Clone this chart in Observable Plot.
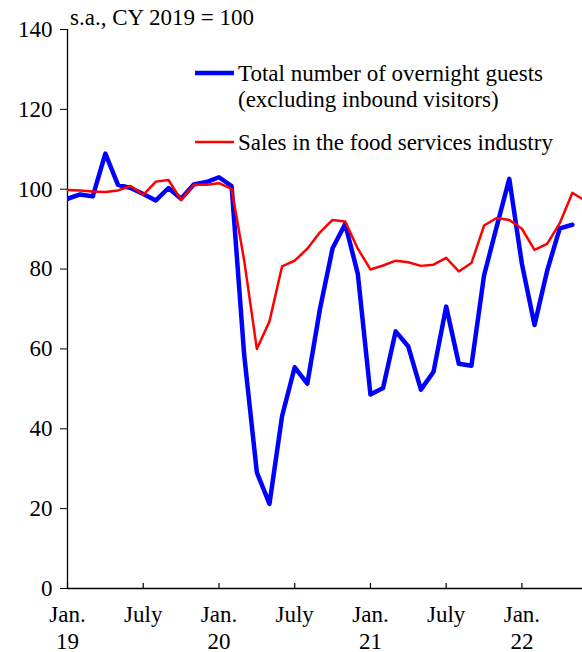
<!DOCTYPE html>
<html><head><meta charset="utf-8">
<script src="https://cdn.jsdelivr.net/npm/d3@7"></script>
<script src="https://cdn.jsdelivr.net/npm/@observablehq/plot@0.6"></script>
<style>html,body{margin:0;padding:0;background:#fff;}</style>
</head><body><div id="chart"></div>
<script>
// Month index 0 = Jan 2019
const guests = [
  97.6, 98.7, 98.2, 108.9, 101.1, 100.3, 98.8, 97.2, 100.3, 97.6, 101.2, 101.8,
  103.0, 100.8, 58.4, 29.1, 21.2, 43.2, 55.4, 51.3, 70.0, 85.2, 91.3, 78.8,
  48.6, 50.2, 64.4, 60.6, 49.8, 54.3, 70.6, 56.3, 55.8, 78.4, 90.6, 102.6,
  81.3, 66.0, 79.6, 90.2, 91.1
];
const sales = [
  99.8, 99.7, 99.4, 99.3, 99.7, 100.8, 98.6, 101.9, 102.3, 97.3, 101.1, 101.1,
  101.5, 100.1, 82.1, 60.0, 66.9, 80.7, 82.1, 85.1, 89.2, 92.3, 91.9, 85.1,
  79.9, 80.9, 82.1, 81.7, 80.8, 81.1, 82.8, 79.4, 81.5, 90.9, 92.8, 92.3,
  90.1, 84.8, 86.3, 91.5, 99.1, 97.1
];
const yTicks = [0, 20, 40, 60, 80, 100, 120, 140];
const xTickPos = [0, 6, 12, 18, 24, 30, 36];
const xTickLabels = ["Jan.\n19", "July", "Jan.\n20", "July", "Jan.\n21", "July", "Jan.\n22"];
const unitLabel = "s.a., CY 2019 = 100";
const seriesNames = [["Total number of overnight guests", "(excluding inbound visitors)"], ["Sales in the food services industry"]];
const seriesColors = ["#0000ff", "#ff0000"];
const seriesWidths = [4.5, 2.5];

const FONT = "Liberation Serif, Times New Roman, serif";
const FS = 23;

const guestRows = guests.map((v, i) => ({i, v}));
const salesRows = sales.map((v, i) => ({i, v}));

function legendMark() {
  return () => {
    const g = d3.create("svg:g").attr("font-family", FONT).attr("font-size", FS)
      .attr("fill", "black").attr("text-anchor", "start");
    g.append("text").attr("x", 70).attr("y", 25).text(unitLabel);
    const entries = [{sy: 73, ty: 81}, {sy: 142, ty: 150}];
    entries.forEach((e, k) => {
      g.append("line").attr("x1", 195).attr("x2", 234).attr("y1", e.sy).attr("y2", e.sy)
        .attr("stroke", seriesColors[k]).attr("stroke-width", seriesWidths[k]);
      const t = g.append("text").attr("x", 238).attr("y", e.ty);
      seriesNames[k].forEach((line, j) => {
        t.append("tspan").attr("x", 238).attr("dy", j === 0 ? 0 : 26).text(line);
      });
    });
    return g.node();
  };
}

const chart = Plot.plot({
  width: 582,
  height: 652,
  marginLeft: 67,
  marginRight: 0,
  marginTop: 29,
  marginBottom: 64,
  style: {fontFamily: FONT, fontSize: FS + "px", background: "white", color: "black"},
  x: {type: "linear", domain: [0, 40.8]},
  y: {domain: [0, 140]},
  marks: [
    Plot.axisY({ticks: yTicks, tickSize: 7, tickPadding: 8, fontSize: FS, label: null, tickFormat: d => d}),
    Plot.axisX({ticks: xTickPos, tickSize: 0, tickPadding: 14, fontSize: FS, lineHeight: 1.17, label: null,
      tickFormat: (d) => xTickLabels[xTickPos.indexOf(d)]}),
    Plot.tickX(xTickPos, {x: d => d, stroke: "black", strokeWidth: 1.2, insetTop: 554}),
    Plot.ruleX([0], {y1: 0, y2: 140, stroke: "black", strokeWidth: 1.3}),
    Plot.ruleY([0], {stroke: "black", strokeWidth: 1.3}),
    Plot.line(guestRows, {x: "i", y: "v", stroke: seriesColors[0], strokeWidth: seriesWidths[0], clip: true}),
    Plot.line(salesRows, {x: "i", y: "v", stroke: seriesColors[1], strokeWidth: seriesWidths[1], clip: true}),
    legendMark()
  ]
});
document.getElementById("chart").appendChild(chart);
</script>
</body></html>
